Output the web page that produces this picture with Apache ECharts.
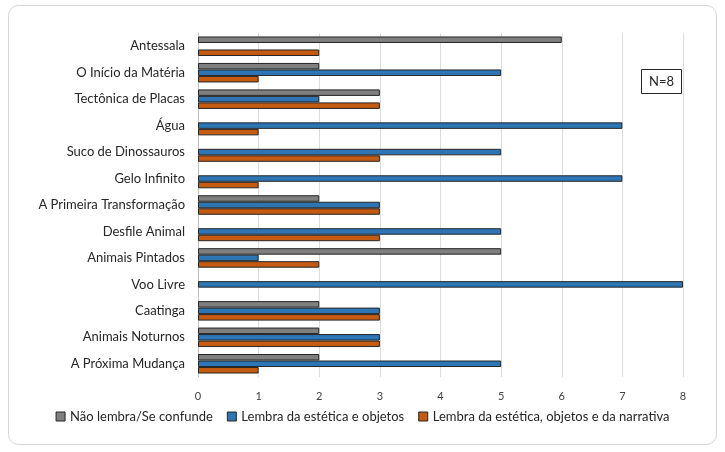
<!DOCTYPE html>
<html><head><meta charset="utf-8">
<script src="https://cdn.jsdelivr.net/npm/echarts@6/dist/echarts.min.js"></script>
<style>html,body{margin:0;padding:0;background:#fff}#c{width:725px;height:452px}</style>
</head><body><div id="c"></div>
<script>
const categories = ["Antessala","O Início da Matéria","Tectônica de Placas","Água","Suco de Dinossauros","Gelo Infinito","A Primeira Transformação","Desfile Animal","Animais Pintados","Voo Livre","Caatinga","Animais Noturnos","A Próxima Mudança"];
const naoLembra = [6,2,3,0,0,0,2,0,5,0,2,2,2];
const esteticaObjetos = [0,5,2,7,5,7,3,5,1,8,3,3,5];
const esteticaNarrativa = [2,1,3,1,3,1,3,3,2,0,3,3,1];
const seriesNames = ["Não lembra/Se confunde","Lembra da estética e objetos","Lembra da estética, objetos e da narrativa"];
const xTicks = [0,1,2,3,4,5,6,7,8];
const colors = ["#7f7f7f","#2e75b6","#c55a11"];
const font = "Lato, 'Liberation Sans', sans-serif";
const chart = echarts.init(document.getElementById('c'));
const mk = (name, data, color) => ({
  name, type: 'bar', data: data.map(v => v === 0 ? null : v),
  barWidth: 6.5, barGap: '0%',
  itemStyle: {color, borderColor: '#262626', borderWidth: 1},
  silent: true
});
chart.setOption({
  animation: false,
  textStyle: {fontFamily: font},
  graphic: [{type:'rect', shape:{x:8.5,y:5.5,width:708,height:439,r:10}, style:{fill:'none', stroke:'#d4d4d4', lineWidth:1}, z:-1}],
  title: {text:'N=8', left:641, top:69, padding:[6,8], borderColor:'#262626', borderWidth:1, textStyle:{fontSize:13, fontWeight:'normal', color:'#262626', fontFamily:font}},
  legend: {bottom: 24, left: 'center', itemWidth: 9, itemHeight: 9, itemGap: 14,
    icon: 'rect', textStyle:{fontSize:13, color:'#262626', fontFamily:font},
    itemStyle:{borderColor:'#262626', borderWidth:1}, data: seriesNames},
  grid: {left:198, right:42, top:33, bottom:75, containLabel:false},
  xAxis: {type:'value', min:xTicks[0], max:xTicks[xTicks.length-1], interval:1,
    axisLine:{show:false}, axisTick:{show:false},
    axisLabel:{color:'#404040', fontSize:11, margin:14, fontFamily:font},
    splitLine:{lineStyle:{color:'#dcdcdc'}}},
  yAxis: {type:'category', data:categories, inverse:true,
    axisLine:{show:true, lineStyle:{color:'#bfbfbf'}}, axisTick:{show:false},
    axisLabel:{color:'#262626', fontSize:13, margin:13, fontFamily:font}},
  series: [mk(seriesNames[0], naoLembra, colors[0]), mk(seriesNames[1], esteticaObjetos, colors[1]), mk(seriesNames[2], esteticaNarrativa, colors[2])]
});
</script></body></html>
